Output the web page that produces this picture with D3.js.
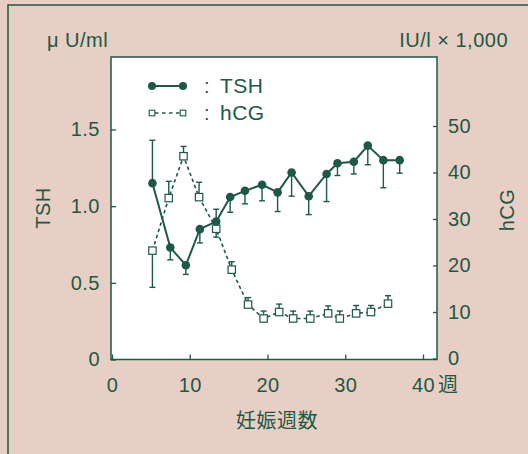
<!DOCTYPE html>
<html>
<head>
<meta charset="utf-8">
<script src="https://cdn.jsdelivr.net/npm/d3@7"></script>
<style>
  body { margin: 0; background: #e8cfc5; }
  svg { display: block; font-family: "Liberation Sans", Arial, "Noto Sans CJK JP", sans-serif; }
</style>
</head>
<body>
<div id="chart"></div>
<script>
'use strict'

// TSH (left axis, μU/ml): week, mean, end of the error bar
var tshWeeks = [5.2, 7.5, 9.5, 11.3, 13.4, 15.2, 17.1, 19.3, 21.3, 23.1, 25.3, 27.6, 29.0, 31.1, 32.9, 34.9, 37.0];
var tshMean  = [1.15, 0.73, 0.615, 0.85, 0.90, 1.06, 1.10, 1.14, 1.09, 1.22, 1.065, 1.21, 1.28, 1.29, 1.395, 1.30, 1.30];
var tshBar   = [1.43, 0.65, 0.555, 0.76, 0.98, 0.96, 1.015, 1.035, 0.965, 1.065, 0.945, 1.03, 1.20, 1.21, 1.27, 1.12, 1.215];

// hCG (right axis, IU/l x 1,000)
var hcgWeeks = [5.2, 7.3, 9.2, 11.2, 13.4, 15.4, 17.5, 19.5, 21.5, 23.3, 25.5, 27.8, 29.3, 31.4, 33.3, 35.5];
var hcgMean  = [23.2, 34.5, 43.5, 34.7, 27.9, 19.1, 11.6, 8.6, 10.0, 8.6, 8.6, 9.7, 8.6, 9.7, 10.0, 11.8];
var hcgBar   = [15.3, 38.1, 45.6, 37.9, 26.1, 20.8, 13.1, 10.2, 11.7, 10.2, 10.2, 11.3, 10.2, 11.4, 11.4, 13.5];

var xTicks = [0, 10, 20, 30, 40];
var leftTicks = [0, 0.5, 1.0, 1.5];
var rightTicks = [0, 10, 20, 30, 40, 50];

const ink = '#1d5943';
const width = 528, height = 454;
const plot = {left: 111, right: 437, top: 57, bottom: 359.5};
const fs = '20px';

var svg = d3.select('#chart').append('svg')
  .attr('width', width)
  .attr('height', height);

// frame lines at top and left
svg.append('rect').attr('width', width).attr('height', height).attr('fill', '#e8cfc5');
svg.append('path')
  .attr('d', 'M8,' + height + 'V5H' + width)
  .attr('fill', 'none')
  .attr('stroke', ink)
  .attr('stroke-width', 1.5);

var x = d3.scaleLinear().domain([0, 40]).range([112, 423]);
var yL = d3.scaleLinear().domain([0, 1.5]).range([359.5, 129.5]);
var yR = d3.scaleLinear().domain([0, 50]).range([358.5, 126]);

// plot area
svg.append('rect')
  .attr('x', plot.left).attr('y', plot.top)
  .attr('width', plot.right - plot.left)
  .attr('height', plot.bottom - plot.top)
  .attr('fill', '#fff')
  .attr('stroke', ink)
  .attr('stroke-width', 1.5);

function styleAxis(g) {
  g.select('.domain').remove();
  g.selectAll('line').attr('stroke', ink).attr('stroke-width', 1.3);
  g.selectAll('text').attr('fill', ink).style('font-size', fs).style('letter-spacing', '0.5px');
}

svg.append('g')
  .attr('transform', 'translate(' + plot.left + ',0)')
  .call(d3.axisLeft(yL).tickValues(leftTicks).tickSize(-5).tickPadding(11)
    .tickFormat(function(d) { return d === 0 ? '0' : d3.format('.1f')(d); }))
  .call(styleAxis);

svg.append('g')
  .attr('transform', 'translate(' + plot.right + ',0)')
  .call(d3.axisRight(yR).tickValues(rightTicks).tickSize(-4).tickPadding(11))
  .call(styleAxis);

svg.append('g')
  .attr('transform', 'translate(0,' + plot.bottom + ')')
  .call(d3.axisBottom(x).tickValues(xTicks).tickSize(-5).tickPadding(18))
  .call(styleAxis);

svg.append('text')
  .attr('x', x(40) + 15).attr('y', 392)
  .attr('fill', ink).style('font-size', fs)
  .text('週');

// titles
function label(t, xx, yy, anchor, rot) {
  var el = svg.append('text')
    .attr('fill', ink).style('font-size', fs).style('letter-spacing', '0.5px')
    .attr('text-anchor', anchor)
    .text(t);
  if (rot) el.attr('transform', 'translate(' + xx + ',' + yy + ') rotate(-90)');
  else el.attr('x', xx).attr('y', yy);
}
label('μ U/ml', 47, 47, 'start');
label('IU/l × 1,000', 508, 47, 'end');
label('TSH', 50, 208, 'middle', true);
label('hCG', 514, 210, 'middle', true);
label('妊娠週数', 277, 428, 'middle');

var tsh = tshWeeks.map(function(w, i) { return {w: w, v: tshMean[i], e: tshBar[i]}; });
var hcg = hcgWeeks.map(function(w, i) { return {w: w, v: hcgMean[i], e: hcgBar[i]}; });

// error bars
function errorBars(data, y) {
  var g = svg.append('g').attr('stroke', ink).attr('stroke-width', 1.4);
  g.selectAll('line.v').data(data).enter().append('line')
    .attr('x1', function(d) { return x(d.w); })
    .attr('x2', function(d) { return x(d.w); })
    .attr('y1', function(d) { return y(d.v); })
    .attr('y2', function(d) { return y(d.e); });
  g.selectAll('line.c').data(data).enter().append('line')
    .attr('x1', function(d) { return x(d.w) - 3; })
    .attr('x2', function(d) { return x(d.w) + 3; })
    .attr('y1', function(d) { return y(d.e); })
    .attr('y2', function(d) { return y(d.e); });
}
errorBars(hcg, yR);
errorBars(tsh, yL);

// hCG dashed line + squares
svg.append('path')
  .datum(hcg)
  .attr('fill', 'none')
  .attr('stroke', ink)
  .attr('stroke-width', 1.6)
  .attr('stroke-dasharray', '3.5,3')
  .attr('d', d3.line().x(function(d) { return x(d.w); }).y(function(d) { return yR(d.v); }));

svg.selectAll('rect.hcg').data(hcg).enter().append('rect')
  .attr('class', 'hcg')
  .attr('x', function(d) { return x(d.w) - 3.7; })
  .attr('y', function(d) { return yR(d.v) - 3.7; })
  .attr('width', 7.4).attr('height', 7.4)
  .attr('fill', '#fff').attr('stroke', ink).attr('stroke-width', 1.2);

// TSH solid line + dots
svg.append('path')
  .datum(tsh)
  .attr('fill', 'none')
  .attr('stroke', ink)
  .attr('stroke-width', 2)
  .attr('d', d3.line().x(function(d) { return x(d.w); }).y(function(d) { return yL(d.v); }));

svg.selectAll('circle.tsh').data(tsh).enter().append('circle')
  .attr('class', 'tsh')
  .attr('cx', function(d) { return x(d.w); })
  .attr('cy', function(d) { return yL(d.v); })
  .attr('r', 4.3)
  .attr('fill', ink);

// legend
var lg = svg.append('g');
lg.append('line').attr('x1', 152).attr('x2', 183).attr('y1', 86).attr('y2', 86)
  .attr('stroke', ink).attr('stroke-width', 2);
lg.selectAll('circle').data([152, 183]).enter().append('circle')
  .attr('cx', function(d) { return d; }).attr('cy', 86).attr('r', 4).attr('fill', ink);
lg.append('line').attr('x1', 155).attr('x2', 181).attr('y1', 113).attr('y2', 113)
  .attr('stroke', ink).attr('stroke-width', 1.4).attr('stroke-dasharray', '3.5,3.5');
lg.selectAll('rect').data([152, 183]).enter().append('rect')
  .attr('x', function(d) { return d - 2.8; }).attr('y', 110.2).attr('width', 5.6).attr('height', 5.6)
  .attr('fill', '#fff').attr('stroke', ink).attr('stroke-width', 1.1);
[['TSH', 93], ['hCG', 120]].forEach(function(e) {
  lg.append('text').attr('x', 204).attr('y', e[1]).attr('fill', ink).style('font-size', fs).text(':');
  lg.append('text').attr('x', 220).attr('y', e[1]).attr('fill', ink).style('font-size', '21px').style('letter-spacing', '0.5px').text(e[0]);
});
</script>
</body>
</html>
